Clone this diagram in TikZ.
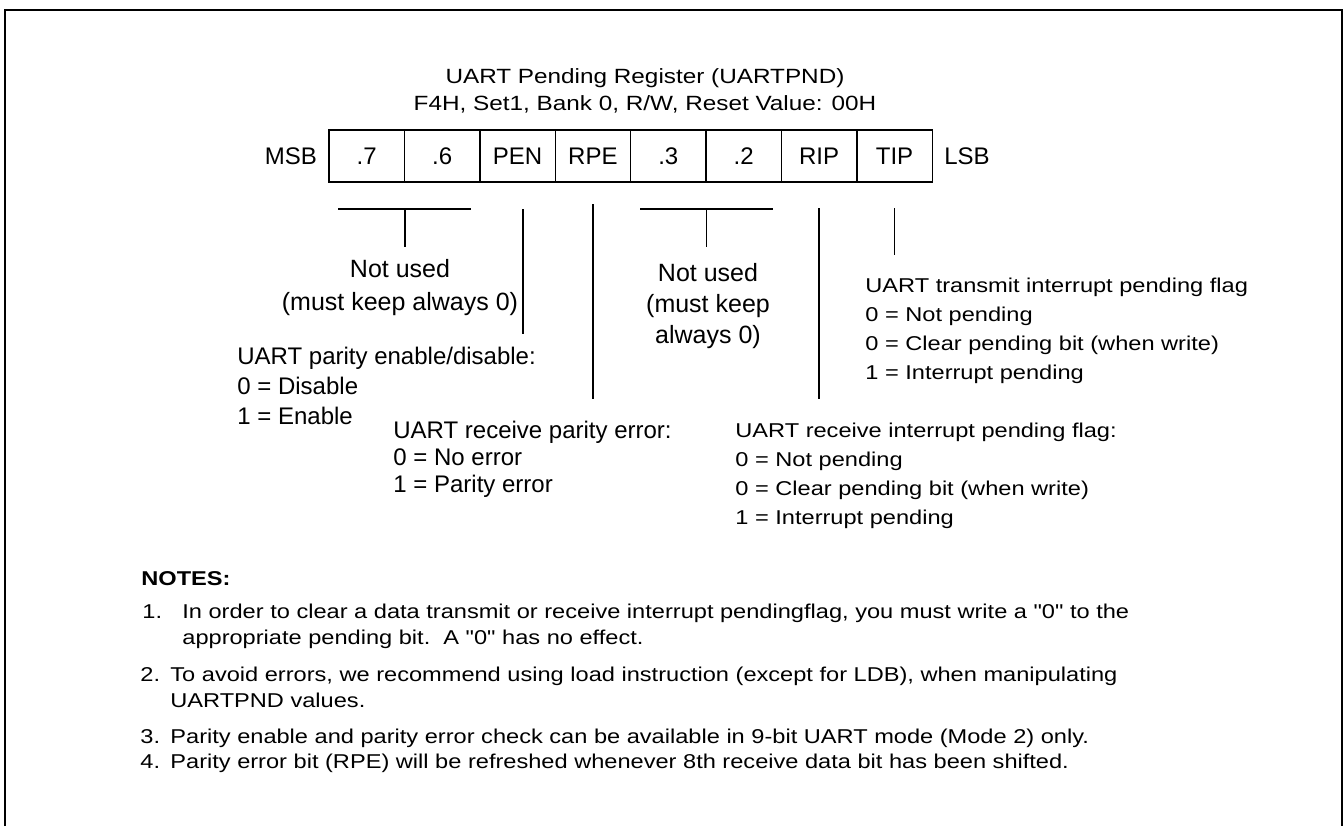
\documentclass[tikz,border=0pt]{standalone}
\usepackage{fontspec}
\setmainfont{Liberation Sans}
\newfontfamily\widefont[FakeStretch=1.18]{Liberation Sans}
\usetikzlibrary{positioning}

\begin{document}
\begin{tikzpicture}[x=0.5pt,y=-0.5pt,
    cell/.style={draw,line width=0.7pt,minimum width=37.7pt,minimum height=26pt,
      inner sep=0pt,font=\fontsize{12}{14}\selectfont},
    side/.style={inner sep=0pt,font=\fontsize{12}{14}\selectfont},
    desc/.style={inner sep=0pt,anchor=base west,align=left},
    lead/.style={line width=0.7pt}]
  \useasboundingbox (0,0) rectangle (1343,826);
  % frame, open at the bottom
  \draw[line width=1pt] (5,826) -- (5,10) -- (1341.5,10) -- (1341.5,826);
  % title (anchored on its last line)
  \node[inner sep=0pt,anchor=base,align=center,
    font=\widefont\fontsize{10.3}{13.5}\selectfont] (title) at (645,110)
    {UART Pending Register (UARTPND)\\F4H, Set1, Bank 0, R/W, Reset Value: 00H};
  % register bits
  \foreach \lbl [count=\i] in {.7,.6,PEN,RPE,.3,.2,RIP,TIP}
    \node[cell] (b\i) at ({329+75.4*(\i-0.5)},156) {\lbl};
  \node[side,left=5.5pt of b1] (msb) {MSB};
  \node[side,right=5.5pt of b8] (lsb) {LSB};
  % leader lines
  \draw[lead] (338,209) -- (471,209) (b1.south east |- 0,209) -- (b1.south east |- 0,247);
  \draw[lead] (523,209) -- (523,334);
  \draw[lead] (b4 |- 0,204) -- (b4 |- 0,399);
  \draw[lead] (640,209) -- (773,209) (b5.south east |- 0,209) -- (b5.south east |- 0,247);
  \draw[lead] (b7 |- 0,208) -- (b7 |- 0,399);
  \draw[lead] (b8 |- 0,208) -- (b8 |- 0,255);
  % bit descriptions (base = last line)
  \node[desc,anchor=base,align=center,font=\fontsize{12.5}{16.5}\selectfont] (unused1)
    at (400,310) {Not used\\(must keep always 0)};
  \node[desc,anchor=base,align=center,font=\fontsize{12.5}{15.5}\selectfont] (unused2)
    at (708,343) {Not used\\(must keep\\always 0)};
  \node[desc,font=\fontsize{12}{15}\selectfont] (pen) at (237,424)
    {UART parity enable/disable:\\0 = Disable\\1 = Enable};
  \node[desc,font=\fontsize{12}{13.5}\selectfont] (rpe) at (393,492)
    {UART receive parity error:\\0 = No error\\1 = Parity error};
  \node[desc,font=\widefont\fontsize{10}{14.5}\selectfont] (tip) at (865,379)
    {UART transmit interrupt pending flag\\0 = Not pending\\0 = Clear pending bit (when write)\\1 = Interrupt pending};
  \node[desc,font=\widefont\fontsize{10}{14.5}\selectfont] (rip) at (735,524)
    {UART receive interrupt pending flag:\\0 = Not pending\\0 = Clear pending bit (when write)\\1 = Interrupt pending};
  % notes
  \node[desc,font=\widefont\bfseries\fontsize{10}{13}\selectfont] (notes) at (141,585) {NOTES:};
  \node[desc,font=\widefont\fontsize{10}{13}\selectfont] (n1) at (142,618) {1.};
  \node[desc,font=\widefont\fontsize{10}{13}\selectfont] (t1) at (182,644)
    {In order to clear a data transmit or receive interrupt pendingflag, you must write a "0" to the\\appropriate pending bit.\ \ A "0" has no effect.};
  \node[desc,font=\widefont\fontsize{10}{13}\selectfont] (n2) at (140,681) {2.};
  \node[desc,font=\widefont\fontsize{10}{13}\selectfont] (t2) at (170,707)
    {To avoid errors, we recommend using load instruction (except for LDB), when manipulating\\UARTPND values.};
  \node[desc,font=\widefont\fontsize{10}{13}\selectfont] (n3) at (140,743) {3.};
  \node[desc,font=\widefont\fontsize{10}{13}\selectfont] (t3) at (170,743)
    {Parity enable and parity error check can be available in 9-bit UART mode (Mode 2) only.};
  \node[desc,font=\widefont\fontsize{10}{13}\selectfont] (n4) at (140,768) {4.};
  \node[desc,font=\widefont\fontsize{10}{13}\selectfont] (t4) at (170,768)
    {Parity error bit (RPE) will be refreshed whenever 8th receive data bit has been shifted.};
\end{tikzpicture}
\end{document}
